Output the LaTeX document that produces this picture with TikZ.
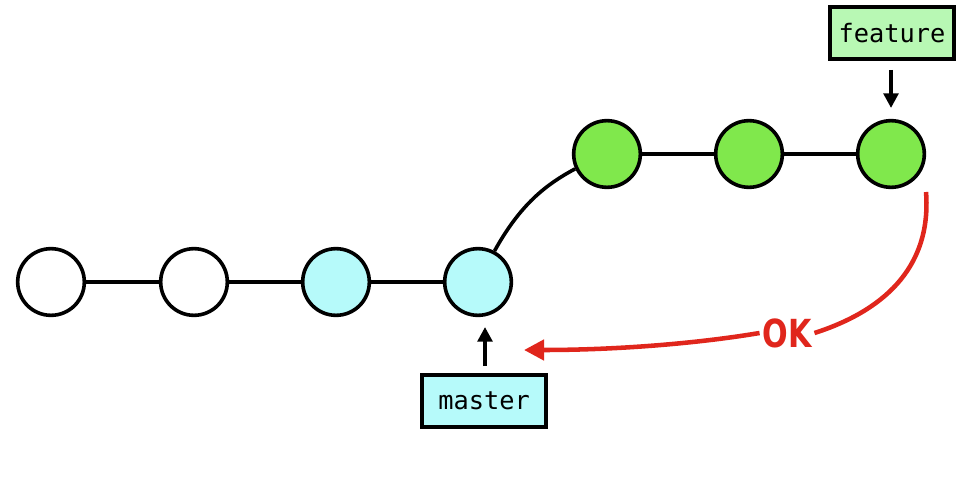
\documentclass[tikz,border=0pt]{standalone}
\usepackage{fontspec}
\setmonofont{DejaVu Sans Mono}
\newfontfamily\okfont[FakeStretch=0.78]{DejaVu Sans}
\usetikzlibrary{arrows.meta}
\definecolor{cyanfill}{HTML}{B6FAFA}
\definecolor{greenfill}{HTML}{80E84C}
\definecolor{lgreen}{HTML}{B8F8B4}
\definecolor{okred}{HTML}{E0261C}
\begin{document}
\begin{tikzpicture}[x=0.75pt,y=-0.75pt,
  commit/.style={circle,draw=black,line width=2.7pt,minimum size=50pt,inner sep=0pt},
  label box/.style={draw=black,line width=2.7pt,font=\ttfamily\fontsize{19}{21}\selectfont,inner sep=0pt,minimum width=93pt,minimum height=39pt},
  edge/.style={line width=2.7pt,draw=black},
  ptr/.style={line width=2.7pt,-{Triangle[length=11pt,width=11pt]}}]
\useasboundingbox (0,0) rectangle (969,495);
\node[commit,fill=white] (c1) at (51,282) {};
\node[commit,fill=white] (c2) at (194,282) {};
\node[commit,fill=cyanfill] (c3) at (336,282) {};
\node[commit,fill=cyanfill] (c4) at (478,282) {};
\node[commit,fill=greenfill] (g1) at (607,154) {};
\node[commit,fill=greenfill] (g2) at (749,154) {};
\node[commit,fill=greenfill] (g3) at (891,154) {};
\draw[edge] (c1) -- (c2);
\draw[edge] (c2) -- (c3);
\draw[edge] (c3) -- (c4);
\draw[edge] (g1) -- (g2);
\draw[edge] (g2) -- (g3);
\draw[edge] (c4.62) .. controls (520,205) and (545,185) .. (g1.205);
\node[label box,fill=lgreen] (feat) at (892,33) {feature};
\node[label box,fill=cyanfill] (mast) at (484,401) {master};
\coordinate (fa) at (891,70);
\coordinate (fb) at (891,108);
\coordinate (ma) at (485,366);
\coordinate (mb) at (485,327);
\draw[ptr] (fa) -- (fb);
\draw[ptr] (ma) -- (mb);
\coordinate (rs) at (926,192);
\coordinate (re) at (524,350);
\node[font=\okfont\bfseries\fontsize{29}{30}\selectfont,text=okred,fill=white,inner sep=2pt] (ok) at (787,333) {OK};
\draw[line width=3.4pt,draw=okred] (rs) .. controls (932,270) and (880,312) .. (ok.east);
\draw[line width=3.4pt,draw=okred,-{Triangle[length=15pt,width=15pt]}] (ok.west) .. controls (700,343) and (620,350) .. (re);
\end{tikzpicture}
\end{document}
